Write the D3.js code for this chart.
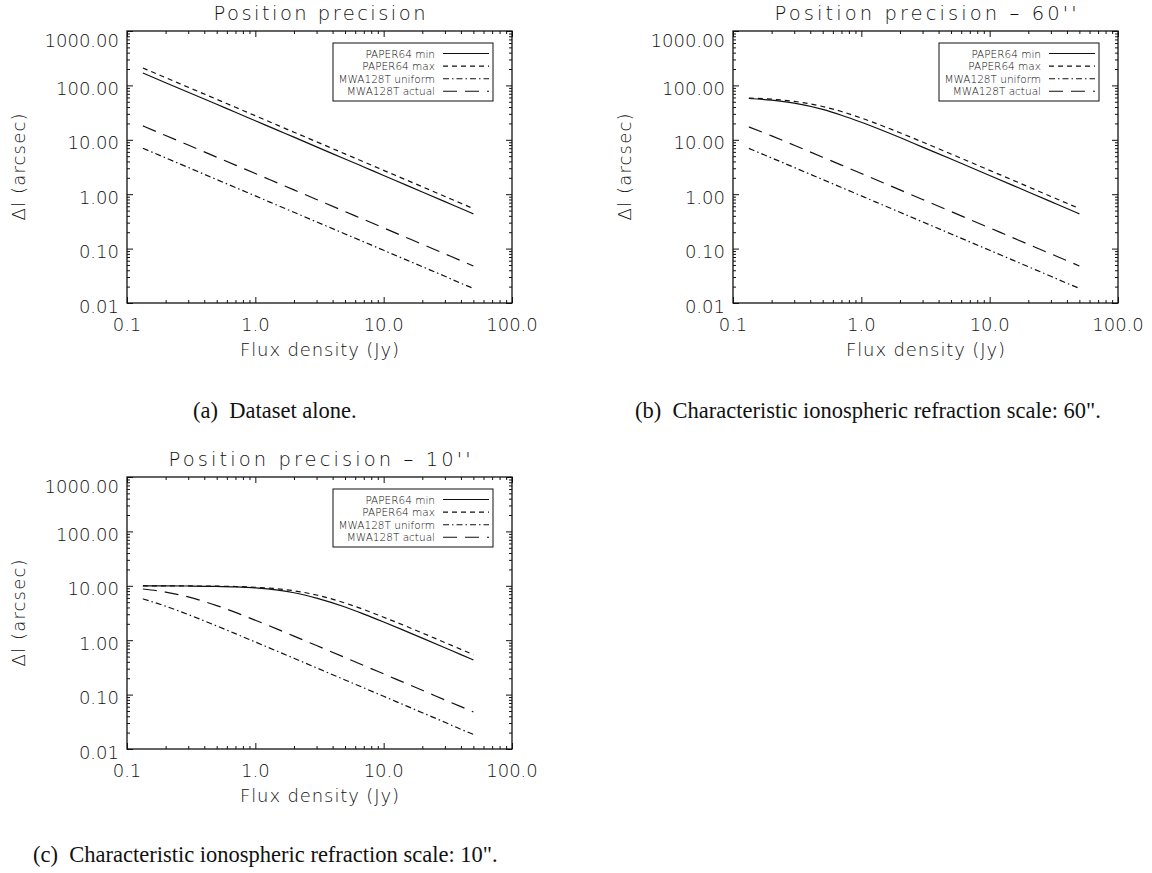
<!DOCTYPE html>
<html>
<head>
<meta charset="utf-8">
<script src="https://cdn.jsdelivr.net/npm/d3@7"></script>
<style>
  body { margin: 0; background: #fff; }
  text { fill: #111; }
</style>
</head>
<body>
<div class="fig"></div>
<script>
// flux density sample points (Jy) the curves were read at
var flux = [0.133, 0.2, 0.3, 0.5, 0.7, 1, 1.5, 2, 3, 5, 7, 10, 15, 20, 30, 40, 50];

// (a) dataset alone
var paperMinA = [169, 112, 75, 45, 32, 22.4, 14.9, 11.2, 7.4, 4.45, 3.17, 2.21, 1.47, 1.1, 0.73, 0.545, 0.435];
var paperMaxA = [209, 139, 92.5, 55.5, 39.6, 27.7, 18.4, 13.8, 9.2, 5.5, 3.93, 2.74, 1.83, 1.37, 0.91, 0.68, 0.545];
var mwaUniA = [7.0, 4.65, 3.1, 1.86, 1.33, 0.93, 0.62, 0.465, 0.31, 0.186, 0.133, 0.093, 0.062, 0.0465, 0.031, 0.023, 0.0186];
var mwaActA = [18, 12, 8.0, 4.8, 3.43, 2.4, 1.6, 1.2, 0.8, 0.48, 0.343, 0.24, 0.16, 0.12, 0.08, 0.06, 0.048];

// (b) 60" refraction scale
var paperMinB = [57.5, 53.5, 47.2, 36.2, 28.3, 21.0, 14.5, 11.0, 7.34, 4.44, 3.16, 2.21, 1.47, 1.1, 0.73, 0.545, 0.435];
var paperMaxB = [58.5, 55.8, 50.8, 40.9, 33.1, 25.1, 17.6, 13.45, 9.09, 5.48, 3.92, 2.74, 1.83, 1.37, 0.91, 0.68, 0.545];
var mwaUniB = [6.95, 4.64, 3.1, 1.86, 1.33, 0.93, 0.62, 0.465, 0.31, 0.186, 0.133, 0.093, 0.062, 0.0465, 0.031, 0.023, 0.0186];
var mwaActB = [17.2, 11.8, 7.93, 4.79, 3.43, 2.4, 1.6, 1.2, 0.8, 0.48, 0.343, 0.24, 0.16, 0.12, 0.08, 0.06, 0.048];

// (c) 10" refraction scale
var paperMinC = [9.98, 9.96, 9.91, 9.76, 9.54, 9.13, 8.3, 7.46, 5.95, 4.07, 3.02, 2.16, 1.454, 1.094, 0.728, 0.544, 0.435];
var paperMaxC = [9.99, 9.97, 9.94, 9.84, 9.7, 9.41, 8.79, 8.1, 6.77, 4.82, 3.66, 2.64, 1.8, 1.357, 0.906, 0.678, 0.544];
var mwaUniC = [5.74, 4.22, 2.96, 1.83, 1.318, 0.926, 0.619, 0.4645, 0.31, 0.186, 0.133, 0.093, 0.062, 0.0465, 0.031, 0.023, 0.0186];
var mwaActC = [8.74, 7.68, 6.25, 4.33, 3.24, 2.33, 1.58, 1.19, 0.797, 0.48, 0.343, 0.24, 0.16, 0.12, 0.08, 0.06, 0.048];

var seriesNames = ["PAPER64 min", "PAPER64 max", "MWA128T uniform", "MWA128T actual"];
var seriesDash = ["none", "5,4", "6,3,1.5,3", "14,8"];

var xTicks = [0.1, 1, 10, 100];
var xTickLabels = ["0.1", "1.0", "10.0", "100.0"];
var yTicks = [0.01, 0.1, 1, 10, 100, 1000];
var yTickLabels = ["0.01", "0.10", "1.00", "10.00", "100.00", "1000.00"];

var panels = [
  { title: "Position precision", titleLen: 212, caption: "(a)  Dataset alone.",
    series: [paperMinA, paperMaxA, mwaUniA, mwaActA], x0: 127, y0: 31, labX: 25, capX: 193, capY: 418 },
  { title: "Position precision \u2013 60''", titleLen: 302, caption: "(b)  Characteristic ionospheric refraction scale: 60\".",
    series: [paperMinB, paperMaxB, mwaUniB, mwaActB], x0: 733, y0: 31, labX: 631, capX: 635, capY: 418 },
  { title: "Position precision \u2013 10''", titleLen: 302, caption: "(c)  Characteristic ionospheric refraction scale: 10\".",
    series: [paperMinC, paperMaxC, mwaUniC, mwaActC], x0: 127, y0: 477, labX: 25, capX: 33, capY: 862 }
];

var W = 1152, H = 873;
var pw = 385, ph = 272;
var idlFont = "'DejaVu Sans', sans-serif";

var svg = d3.select(".fig").append("svg").attr("width", W).attr("height", H);

var x = d3.scaleLog().domain([0.1, 100]).range([0, pw]);
var y = d3.scaleLog().domain([0.01, 1000]).range([ph, 0]);

var xMinor = x.ticks().filter(function (t) { return xTicks.indexOf(+t.toPrecision(3)) < 0; });
var yMinor = y.ticks().filter(function (t) { return yTicks.indexOf(+t.toPrecision(3)) < 0; });

function tickAxis(axisFn, scale, values, size) {
  return axisFn(scale).tickValues(values).tickSize(size).tickFormat("");
}

function idlText(sel, size) {
  return sel
    .style("font-family", idlFont)
    .style("font-weight", 200)
    .style("font-size", size + "px");
}

function drawPanel(p) {
  var g = svg.append("g").attr("transform", "translate(" + p.x0 + "," + p.y0 + ")");

  // ticks on all four sides, pointing inward
  var axes = [
    [d3.axisBottom, x, "translate(0," + ph + ")"],
    [d3.axisTop, x, "translate(0,0)"],
    [d3.axisLeft, y, "translate(0,0)"],
    [d3.axisRight, y, "translate(" + pw + ",0)"]
  ];
  axes.forEach(function (a) {
    var isX = a[1] === x;
    var ga = g.append("g").attr("transform", a[2]);
    ga.append("g").call(tickAxis(a[0], a[1], isX ? xTicks : yTicks, -6));
    ga.append("g").call(tickAxis(a[0], a[1], isX ? xMinor : yMinor, -3));
    ga.selectAll(".domain").remove();
    ga.selectAll("line").attr("stroke", "#111").attr("stroke-width", 1);
  });

  g.append("rect")
    .attr("width", pw)
    .attr("height", ph)
    .attr("fill", "none")
    .attr("stroke", "#111")
    .attr("stroke-width", 1.3);

  // tick labels
  g.selectAll(".xl")
    .data(xTicks)
    .enter()
    .append("text")
    .attr("x", function (d) { return x(d); })
    .attr("y", ph + 28)
    .attr("text-anchor", "middle")
    .call(idlText, 18)
    .text(function (_, i) { return xTickLabels[i]; });

  g.selectAll(".yl")
    .data(yTicks)
    .enter()
    .append("text")
    .attr("x", -8)
    .attr("y", function (d, i) { return y(d) + (i === yTicks.length - 1 ? 16 : 9.5); })
    .attr("text-anchor", "end")
    .call(idlText, 18)
    .text(function (_, i) { return yTickLabels[i]; });

  // title and axis labels
  g.append("text")
    .attr("x", pw / 2)
    .attr("y", -11)
    .attr("text-anchor", "middle")
    .attr("textLength", p.titleLen)
    .attr("lengthAdjust", "spacing")
    .call(idlText, 19.5)
    .text(p.title);

  g.append("text")
    .attr("x", pw / 2)
    .attr("y", ph + 53)
    .attr("text-anchor", "middle")
    .attr("textLength", 159)
    .attr("lengthAdjust", "spacing")
    .call(idlText, 18)
    .text("Flux density (Jy)");

  svg.append("text")
    .attr("transform", "translate(" + p.labX + "," + (p.y0 + ph / 2) + ") rotate(-90)")
    .attr("text-anchor", "middle")
    .attr("textLength", 107)
    .attr("lengthAdjust", "spacing")
    .call(idlText, 18)
    .text("\u0394l (arcsec)");

  // curves
  var line = d3
    .line()
    .x(function (d) { return x(d[0]); })
    .y(function (d) { return y(d[1]); })
    .curve(d3.curveMonotoneX);

  p.series.forEach(function (vals, i) {
    g.append("path")
      .datum(flux.map(function (f, j) { return [f, vals[j]]; }))
      .attr("d", line)
      .attr("fill", "none")
      .attr("stroke", "#111")
      .attr("stroke-width", 1.2)
      .attr("stroke-dasharray", seriesDash[i]);
  });

  // legend
  var lg = g.append("g").attr("transform", "translate(206,12)");
  lg.append("rect")
    .attr("width", 160)
    .attr("height", 58)
    .attr("fill", "#fff")
    .attr("stroke", "#111")
    .attr("stroke-width", 1);
  seriesNames.forEach(function (name, i) {
    var ry = 10.5 + i * 12.6;
    lg.append("text")
      .attr("x", 102)
      .attr("y", ry + 4)
      .attr("text-anchor", "end")
      .call(idlText, 10.5)
      .style("font-weight", 300)
      .text(name);
    lg.append("line")
      .attr("x1", 110)
      .attr("x2", 156)
      .attr("y1", ry)
      .attr("y2", ry)
      .attr("stroke", "#111")
      .attr("stroke-width", 1.1)
      .attr("stroke-dasharray", seriesDash[i]);
  });

  svg.append("text")
    .attr("x", p.capX)
    .attr("y", p.capY)
    .style("font-family", "'Liberation Serif', 'Times New Roman', serif")
    .style("font-size", "22.5px")
    .style("white-space", "pre")
    .text(p.caption);
}

panels.forEach(drawPanel);
</script>
</body>
</html>
